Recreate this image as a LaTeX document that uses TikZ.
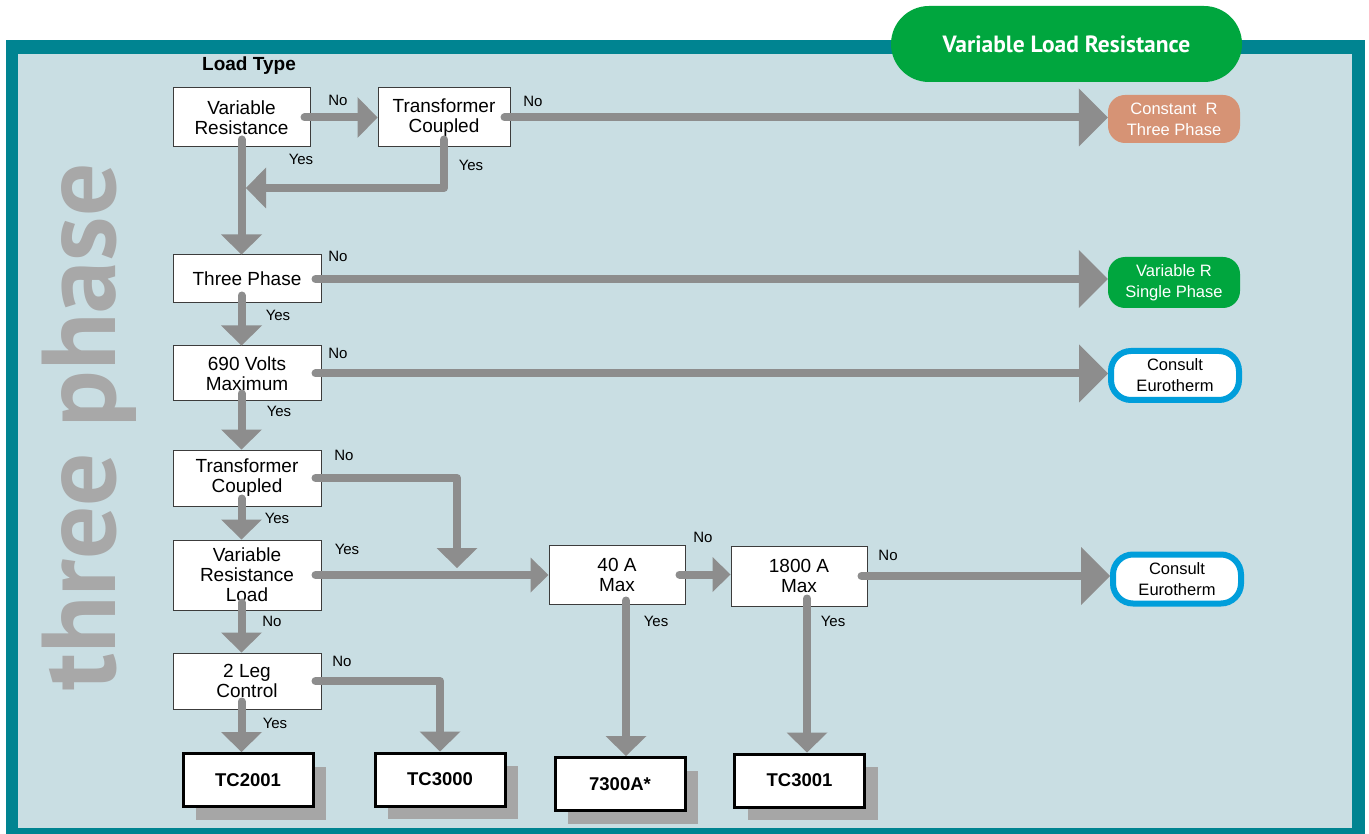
\documentclass[tikz,border=0pt]{standalone}
\usepackage{fontspec}
\setmainfont{Liberation Sans}
\newfontfamily\headfont{PT Sans}
\usetikzlibrary{arrows.meta,shadows}

\definecolor{frame}{RGB}{0,132,145}
\definecolor{panel}{RGB}{201,222,227}
\definecolor{arrowgray}{RGB}{141,141,141}
\definecolor{shadowgray}{RGB}{166,166,166}
\definecolor{sidegray}{RGB}{168,168,168}
\definecolor{boxline}{RGB}{60,60,60}
\definecolor{titlegreen}{RGB}{0,166,62}
\definecolor{salmon}{RGB}{214,147,117}
\definecolor{ceblue}{RGB}{0,158,219}

\begin{document}
\begin{tikzpicture}[x=1pt,y=-1pt]
\tikzstyle{every node}=[inner sep=0pt, align=center, font=\fontsize{19}{20}\selectfont]
\tikzstyle{box}=[draw=boxline, line width=1pt, fill=white]
\tikzstyle{result}=[draw=black, line width=3pt, fill=white, font=\bfseries\fontsize{18.5}{20}\selectfont, minimum width=130pt, minimum height=53pt, drop shadow={shadow xshift=13pt, shadow yshift=-13pt, fill=shadowgray, opacity=1}]
\tikzstyle{conn}=[draw=arrowgray, line width=8pt, line cap=round, line join=round, -{Triangle[width=41pt, length=20pt, line width=0pt]}]
\tikzstyle{midconn}=[conn, -{Triangle[width=35pt, length=18pt, line width=0pt]}]
\tikzstyle{longconn}=[conn, -{Triangle[width=58pt, length=29pt, line width=0pt]}]
\tikzstyle{yesno}=[font=\fontsize{15}{17}\selectfont]
\tikzstyle{pill}=[text=white, rounded corners=17pt, font=\fontsize{16.5}{21}\selectfont, minimum width=132pt]
\tikzstyle{consult}=[draw=ceblue, line width=6pt, fill=white, rounded corners=20pt, font=\fontsize{16.5}{21}\selectfont, minimum width=128pt, minimum height=49pt]

% frame
\useasboundingbox (0,0) rectangle (1369,834);
\fill[white] (0,0) rectangle (1369,834);
\fill[frame] (6,40) rectangle (1365,834);
\fill[panel] (18,54) rectangle (1352,828);
\draw (1066.5,44) node (title) [fill=titlegreen, text=white, rounded corners=38pt, minimum width=351pt, minimum height=76pt, font=\headfont\bfseries\fontsize{23.5}{26}\selectfont] {Variable Load Resistance};
\draw (89,427) node (side) [rotate=90, text=sidegray, font=\headfont\bfseries\fontsize{105}{105}\selectfont] {three phase};

% questions
\draw (249,66) node (head) [font=\bfseries\fontsize{19}{20}\selectfont] {Load Type};
\draw (241.5,117.5) node (vr) [box, minimum width=137pt, minimum height=59pt] {Variable\\Resistance};
\draw (444,117.5) node (tc1) [box, minimum width=132pt, minimum height=59pt] {Transformer\\Coupled};
\draw (247,279) node (tph) [box, minimum width=148pt, minimum height=48pt] {Three Phase};
\draw (247,373.5) node (v690) [box, minimum width=148pt, minimum height=55pt] {690 Volts\\Maximum};
\draw (247,478) node (tc2) [box, minimum width=148pt, minimum height=56pt] {Transformer\\Coupled};
\draw (247,575) node (vrl) [box, minimum width=148pt, minimum height=70pt] {Variable\\Resistance\\Load};
\draw (247,681) node (leg) [box, minimum width=148pt, minimum height=56pt] {2 Leg\\Control};
\draw (617,574.5) node (a40) [box, minimum width=136pt, minimum height=59pt] {40 A\\Max};
\draw (799,576) node (a1800) [box, minimum width=136pt, minimum height=60pt] {1800 A\\Max};

% outcomes
\draw (1174,119) node (constr) [pill, fill=salmon, minimum height=48pt] {Constant~~R\\Three Phase};
\draw (1174,282.5) node (varr) [pill, fill=titlegreen, minimum height=51pt] {Variable R\\Single Phase};
\draw (1175,375.5) node (cons1) [consult] {Consult\\Eurotherm};
\draw (1177,579) node (cons2) [consult] {Consult\\Eurotherm};
\draw (248,780) node (tc2001) [result] {TC2001};
\draw (440,779.5) node (tc3000) [result] {TC3000};
\draw (620,784) node (t7300) [result] {7300A*};
\draw (799.5,780.5) node (tc3001) [result] {TC3001};

\coordinate (yesjoin) at (246,188);
\coordinate (nojoin) at (457,568);

% connectors
\draw[conn] ([xshift=-6pt]vr.east) -- (tc1.west);
\draw[longconn] ([xshift=-6pt]tc1.east) -- (tc1.east -| constr.west);
\draw[conn] ([yshift=8pt]vr.south) -- (vr.south |- tph.north);
\draw[conn] ([yshift=8pt]tc1.south) |- (yesjoin);
\draw[longconn] ([xshift=-6pt]tph.east) -- (tph.east -| varr.west);
\draw[conn] ([yshift=8pt]tph.south -| vr.south) -- (vr.south |- v690.north);
\draw[longconn] ([xshift=-6pt]v690.east) -- (v690.east -| cons1.west);
\draw[conn] ([yshift=8pt]v690.south -| vr.south) -- (vr.south |- tc2.north);
\draw[conn] ([xshift=-6pt]tc2.east) -| (nojoin);
\draw[conn] ([yshift=8pt]tc2.south -| vr.south) -- (vr.south |- vrl.north);
\draw[midconn] ([xshift=-6pt]vrl.east) -- (vrl.east -| a40.west);
\draw[midconn] ([xshift=-6pt]a40.east) -- (a40.east -| a1800.west);
\draw[longconn] ([xshift=-6pt]a1800.east) -- (a1800.east -| cons2.west);
\draw[conn] ([yshift=8pt]vrl.south -| vr.south) -- (vr.south |- leg.north);
\draw[conn] ([xshift=-6pt]leg.east) -| (tc3000.north);
\draw[conn] ([yshift=8pt]leg.south -| vr.south) -- (vr.south |- tc2001.north);
\draw[conn] ([xshift=9pt,yshift=4pt]a40.south) -- ([xshift=9pt]a40.south |- t7300.north);
\draw[conn] ([xshift=8pt,yshift=8pt]a1800.south) -- ([xshift=8pt]a1800.south |- tc3001.north);

% yes / no
\draw (338,100) node (no1) [yesno] {No};
\draw (533,101) node (no2) [yesno] {No};
\draw (301,159) node (yes1) [yesno] {Yes};
\draw (471,165) node (yes2) [yesno] {Yes};
\draw (338,256) node (no3) [yesno] {No};
\draw (278,315) node (yes3) [yesno] {Yes};
\draw (338,353) node (no4) [yesno] {No};
\draw (279,411) node (yes4) [yesno] {Yes};
\draw (344,455) node (no5) [yesno] {No};
\draw (277,518) node (yes5) [yesno] {Yes};
\draw (347,549) node (yes6) [yesno] {Yes};
\draw (272,621) node (no6) [yesno] {No};
\draw (703,537) node (no7) [yesno] {No};
\draw (888,555) node (no8) [yesno] {No};
\draw (656,621) node (yes7) [yesno] {Yes};
\draw (833,621) node (yes8) [yesno] {Yes};
\draw (342,661) node (no9) [yesno] {No};
\draw (275,723) node (yes9) [yesno] {Yes};
\end{tikzpicture}
\end{document}
